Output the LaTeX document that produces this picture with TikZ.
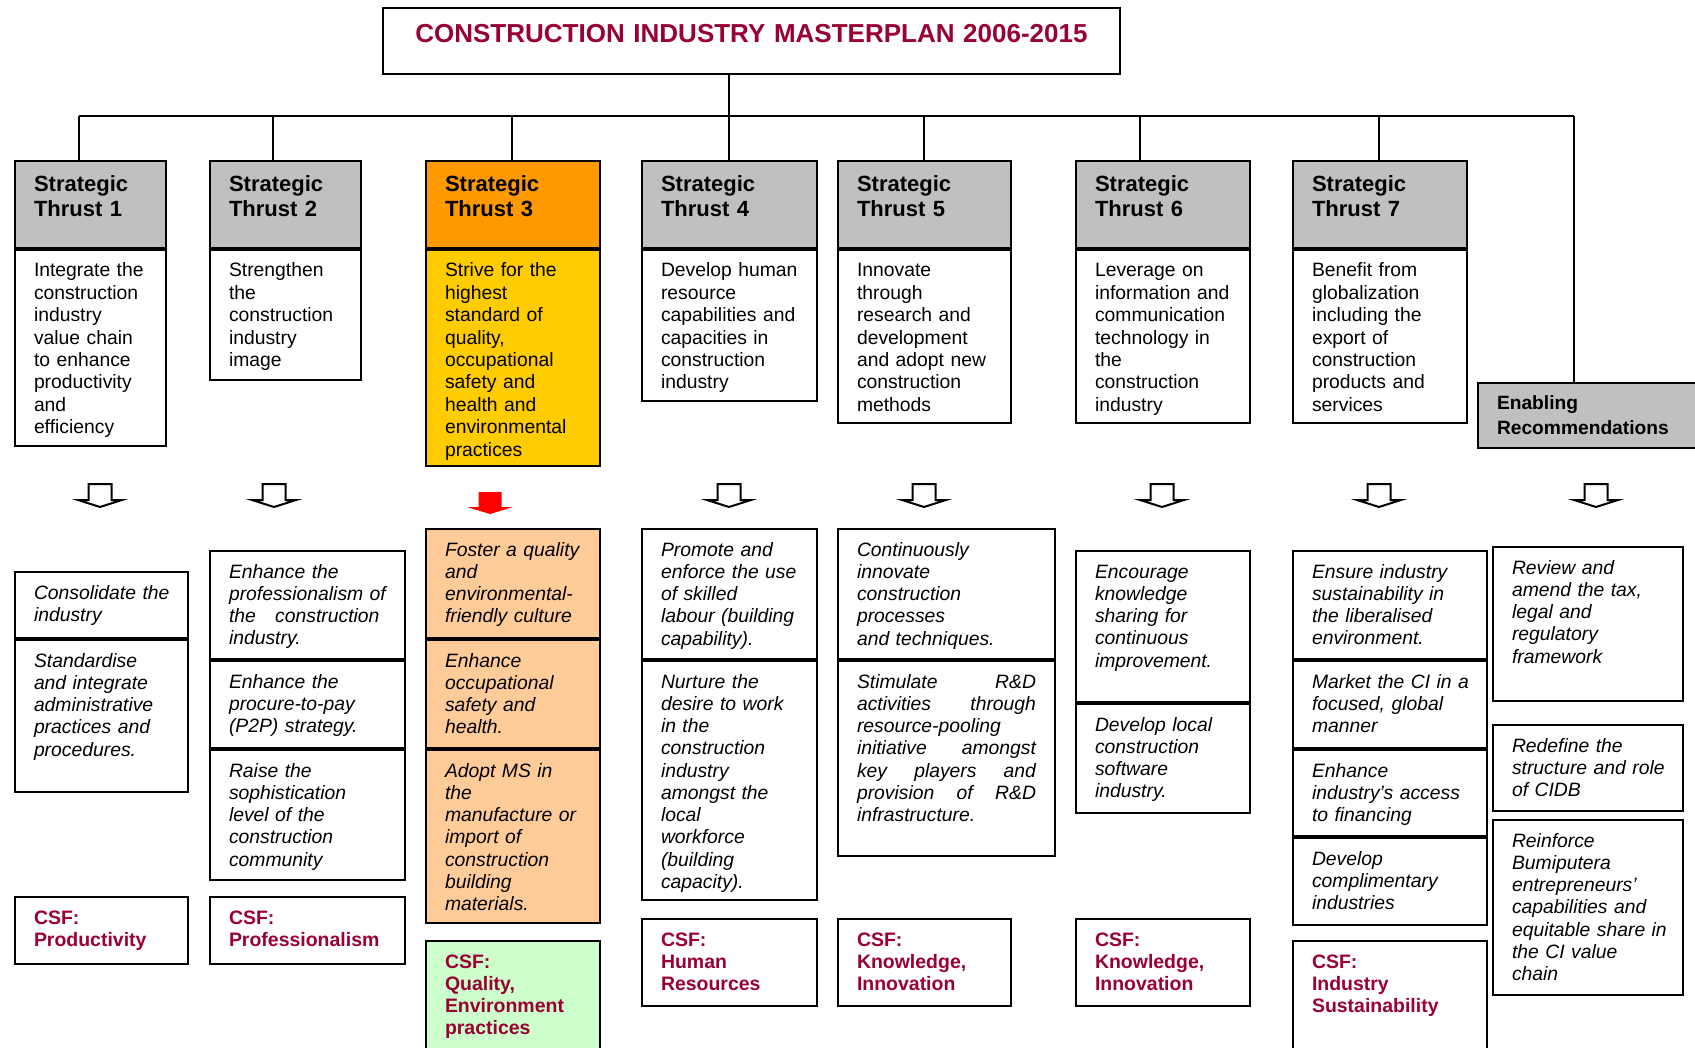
\documentclass[tikz,border=0pt]{standalone}
\usepackage{fontspec}
\setmainfont{Liberation Sans}
\usepackage{xcolor}
\usepackage{tikz}
\usetikzlibrary{positioning}

\definecolor{hdgray}{HTML}{C0C0C0}
\definecolor{thorange}{HTML}{FF9900}
\definecolor{thyellow}{HTML}{FFCC00}
\definecolor{actorange}{HTML}{FFCC99}
\definecolor{csfgreen}{HTML}{CCFFCC}
\definecolor{csfred}{HTML}{990033}
\newdimen\pix \pix=0.75pt

\begin{document}
\begin{tikzpicture}[x=0.75pt,y=-0.75pt]
\tikzstyle{every node}+=[inner sep=0pt]
\tikzstyle{box}=[draw=black, line width=1.5pt, anchor=north west, inner xsep=19\pix, inner ysep=0pt, align=left, text height=27\pix]
\tikzstyle{thead}=[box, fill=hdgray, text height=31\pix, text depth=56\pix, font=\fontsize{16.5}{18.4}\selectfont\bfseries]
\tikzstyle{tbody}=[box, font=\fontsize{14.5}{16.8}\selectfont]
\tikzstyle{act}=[box, font=\fontsize{14.5}{16.7}\selectfont\itshape]
\tikzstyle{csf}=[box, text=csfred, font=\fontsize{14.6}{16.7}\selectfont\bfseries]
\tikzstyle{conn}=[line width=1.2pt]
\tikzstyle{hollow}=[line width=1.5pt, line join=miter]
\useasboundingbox (0,0) rectangle (1695,1048);

% title
\node[box, align=center, text width=699\pix, text height=35\pix, text depth=31\pix, text=csfred, font=\fontsize{19.5}{22}\selectfont\bfseries] (title) at (382,7) {CONSTRUCTION INDUSTRY MASTERPLAN 2006-2015};

% strategic thrusts
\node[thead, text width=113\pix] (t1) at (14,160) {Strategic\\Thrust 1};
\node[tbody, text width=113\pix, text depth=169\pix] (t1b) at (t1.south west) {Integrate the\\construction\\industry\\value chain\\to enhance\\productivity\\and\\efficiency};
\node[thead, text width=113\pix] (t2) at (209,160) {Strategic\\Thrust 2};
\node[tbody, text width=113\pix, text depth=103\pix] (t2b) at (t2.south west) {Strengthen\\the\\construction\\industry\\image};
\node[thead, fill=thorange, text width=136\pix] (t3) at (425,160) {Strategic\\Thrust 3};
\node[tbody, fill=thyellow, text width=136\pix, text depth=189\pix] (t3b) at (t3.south west) {Strive for the\\highest\\standard of\\quality,\\occupational\\safety and\\health and\\environmental\\practices};
\node[thead, text width=137\pix] (t4) at (641,160) {Strategic\\Thrust 4};
\node[tbody, text width=137\pix, text depth=124\pix] (t4b) at (t4.south west) {Develop human\\resource\\capabilities and\\capacities in\\construction\\industry};
\node[thead, text width=135\pix] (t5) at (837,160) {Strategic\\Thrust 5};
\node[tbody, text width=135\pix, text depth=146\pix] (t5b) at (t5.south west) {Innovate\\through\\research and\\development\\and adopt new\\construction\\methods};
\node[thead, text width=136\pix] (t6) at (1075,160) {Strategic\\Thrust 6};
\node[tbody, text width=136\pix, text depth=146\pix] (t6b) at (t6.south west) {Leverage on\\information and\\communication\\technology in\\the\\construction\\industry};
\node[thead, text width=136\pix] (t7) at (1292,160) {Strategic\\Thrust 7};
\node[tbody, text width=136\pix, text depth=146\pix] (t7b) at (t7.south west) {Benefit from\\globalization\\including the\\export of\\construction\\products and\\services};
\node[box, fill=hdgray, text width=192\pix, text depth=38\pix, font=\fontsize{14.4}{18}\selectfont\bfseries] (en) at (1477,382) {Enabling\\Recommendations};

% tree lines
\coordinate (t1top) at ([xshift=65\pix]t1.north west);
\coordinate (t2top) at ([xshift=64\pix]t2.north west);
\coordinate (t3top) at ([xshift=87\pix]t3.north west);
\coordinate (t4top) at ([xshift=88\pix]t4.north west);
\coordinate (t5top) at ([xshift=87\pix]t5.north west);
\coordinate (t6top) at ([xshift=65\pix]t6.north west);
\coordinate (t7top) at ([xshift=87\pix]t7.north west);
\coordinate (entop) at ([xshift=97\pix]en.north west);
\coordinate (bus) at (729,116);
\draw[conn] (t4top |- title.south) -- (t4top);
\draw[conn] (t1top |- bus) -- (entop |- bus);
\foreach \n in {t1top,t2top,t3top,t5top,t6top,t7top,entop}
  \draw[conn] (\n |- bus) -- (\n);

% down arrows
\foreach \ax in {100,274,729,924,1162,1379,1596}
  \draw[hollow] (\ax-11.5,484) -- (\ax+11.5,484) -- (\ax+11.5,500) -- (\ax+22,500) -- (\ax,507) -- (\ax-22,500) -- (\ax-11.5,500) -- cycle;
\fill[red] (478.5,492) -- (501.5,492) -- (501.5,507) -- (513,507) -- (490,514) -- (467,507) -- (478.5,507) -- cycle;

% column 1
\node[act, text width=135\pix, text depth=39\pix] (c1a) at (14,571) {Consolidate~the\\industry};
\node[act, text width=135\pix, text depth=125\pix] (c1b) at (c1a.south west) {Standardise\\and integrate\\administrative\\practices and\\procedures.};
\node[csf, text width=135\pix, text depth=40\pix] (c1c) at (14,896) {CSF:\\Productivity};

% column 2
\node[act, text width=157\pix, text depth=81\pix] (c2a) at (209,550) {Enhance the\\professionalism~of\\the~~~construction\\industry.};
\node[act, text width=157\pix, text depth=60\pix] (c2b) at (c2a.south west) {Enhance the\\procure-to-pay\\(P2P) strategy.};
\node[act, text width=157\pix, text depth=103\pix] (c2c) at (c2b.south west) {Raise the\\sophistication\\level of the\\construction\\community};
\node[csf, text width=157\pix, text depth=40\pix] (c2d) at (209,896) {CSF:\\Professionalism};

% column 3
\node[act, fill=actorange, text width=136\pix, text depth=82\pix] (c3a) at (425,528) {Foster~a~quality\\and\\environmental-\\friendly culture};
\node[act, fill=actorange, text width=136\pix, text depth=81\pix] (c3b) at (c3a.south west) {Enhance\\occupational\\safety and\\health.};
\node[act, fill=actorange, text width=136\pix, text depth=146\pix] (c3c) at (c3b.south west) {Adopt MS in\\the\\manufacture~or\\import of\\construction\\building\\materials.};
\node[csf, fill=csfgreen, text width=136\pix, text depth=88\pix] (c3d) at (425,940) {CSF:\\Quality,\\Environment\\practices};

% column 4
\node[act, text width=137\pix, text depth=103\pix] (c4a) at (641,528) {Promote and\\enforce~the~use\\of skilled\\labour~(building\\capability).};
\node[act, text width=137\pix, text depth=212\pix] (c4b) at (c4a.south west) {Nurture the\\desire to work\\in the\\construction\\industry\\amongst the\\local\\workforce\\(building\\capacity).};
\node[csf, text width=137\pix, text depth=60\pix] (c4c) at (641,918) {CSF:\\Human\\Resources};

% column 5
\node[act, text width=179\pix, text depth=103\pix] (c5a) at (837,528) {Continuously\\innovate\\construction\\processes\\and techniques.};
\node[act, text width=179\pix, text depth=168\pix] (c5b) at (c5a.south west) {Stimulate\hfill R\&D\\activities\hfill through\\resource-pooling\\initiative\hfill amongst\\key\hfill players\hfill and\\provision\hfill of\hfill R\&D\\infrastructure.};
\node[csf, text width=135\pix, text depth=60\pix] (c5c) at (837,918) {CSF:\\Knowledge,\\Innovation};

% column 6
\node[act, text width=136\pix, text depth=124\pix] (c6a) at (1075,550) {Encourage\\knowledge\\sharing for\\continuous\\improvement.};
\node[act, text width=136\pix, text depth=82\pix] (c6b) at (c6a.south west) {Develop local\\construction\\software\\industry.};
\node[csf, text width=136\pix, text depth=60\pix] (c6c) at (1075,918) {CSF:\\Knowledge,\\Innovation};

% column 7
\node[act, text width=156\pix, text depth=81\pix] (c7a) at (1292,550) {Ensure industry\\sustainability~in\\the liberalised\\environment.};
\node[act, text width=156\pix, text depth=60\pix] (c7b) at (c7a.south west) {Market~the~CI~in~a\\focused, global\\manner};
\node[act, text width=156\pix, text depth=59\pix] (c7c) at (c7b.south west) {Enhance\\industry’s~access\\to financing};
\node[act, text width=156\pix, text depth=60\pix] (c7d) at (c7c.south west) {Develop\\complimentary\\industries};
\node[csf, text width=156\pix, text depth=88\pix] (c7e) at (1292,940) {CSF:\\Industry\\Sustainability};

% enabling recommendations
\node[act, text width=152\pix, text depth=127\pix] (c8a) at (1492,546) {Review and\\amend~the~tax,\\legal and\\regulatory\\framework};
\node[act, text width=152\pix, text depth=59\pix] (c8b) at (1492,724) {Redefine the\\structure~and~role\\of CIDB};
\node[act, text width=152\pix, text depth=148\pix] (c8c) at (1492,819) {Reinforce\\Bumiputera\\entrepreneurs’\\capabilities~and\\equitable~share~in\\the CI value\\chain};
\end{tikzpicture}
\end{document}
